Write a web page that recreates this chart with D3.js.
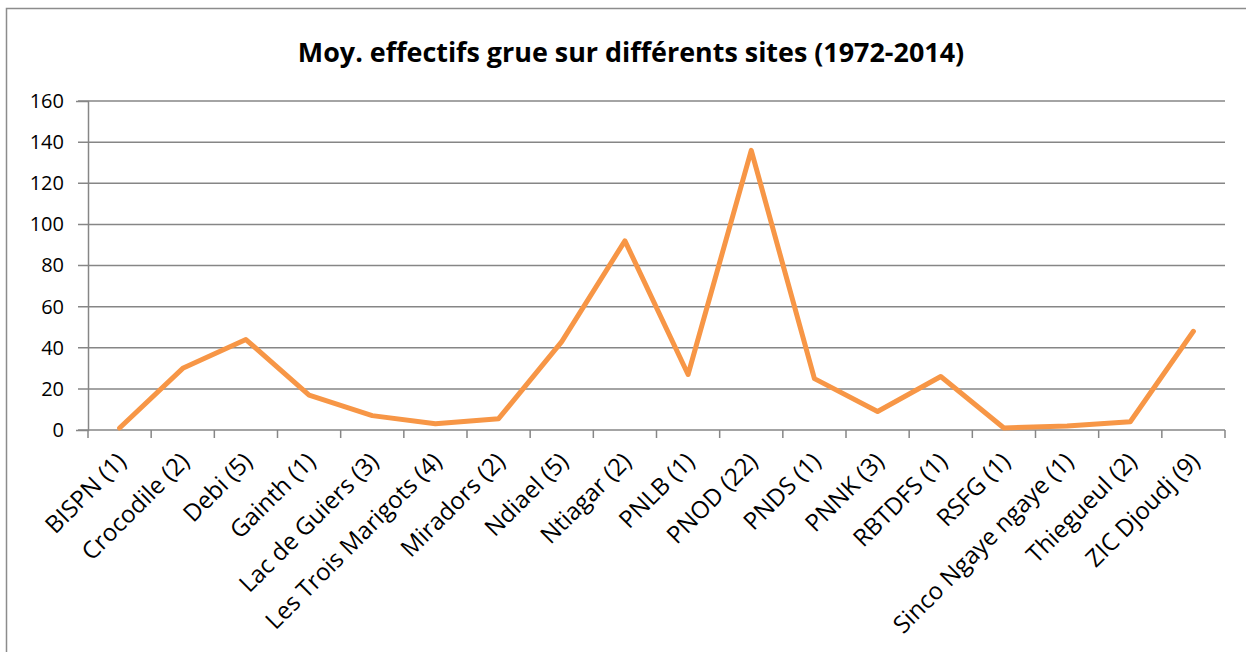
<!DOCTYPE html>
<html>
<head>
<meta charset="utf-8">
<script src="https://cdn.jsdelivr.net/npm/d3@7"></script>
<style>
  body { margin: 0; background: #fff; }
  text { font-family: "Open Sans", "Noto Sans", sans-serif; fill: #000; }
</style>
</head>
<body>
<script>
// sites (number of counts) and mean crane numbers
var sites = ["BISPN (1)", "Crocodile (2)", "Debi (5)", "Gainth (1)", "Lac de Guiers (3)",
    "Les Trois Marigots (4)", "Miradors (2)", "Ndiael (5)", "Ntiagar (2)", "PNLB (1)",
    "PNOD (22)", "PNDS (1)", "PNNK (3)", "RBTDFS (1)", "RSFG (1)",
    "Sinco Ngaye ngaye (1)", "Thiegueul (2)", "ZIC Djoudj (9)"];
var moyennes = [1, 30, 44, 17, 7, 3, 5.5, 43, 92, 27, 136, 25, 9, 26, 1, 2, 4, 48];
var yTicks = [0, 20, 40, 60, 80, 100, 120, 140, 160];

var width = 1246,
    height = 652;

var svg = d3.select("body")
    .append("svg")
    .attr("width", width)
    .attr("height", height);

//outer chart frame
svg.append("rect")
    .attr("x", 6.5)
    .attr("y", 8.5)
    .attr("width", 1300)
    .attr("height", 700)
    .attr("fill", "none")
    .attr("stroke", "#8c8c8c")
    .attr("stroke-width", 1.5);

svg.append("text")
    .attr("x", 631)
    .attr("y", 62)
    .attr("text-anchor", "middle")
    .attr("font-size", 26.9)
    .attr("font-weight", "bold")
    .text("Moy. effectifs grue sur différents sites (1972-2014)");

var x = d3.scaleBand()
    .domain(sites)
    .range([88, 1225]);

var y = d3.scaleLinear()
    .domain([0, 160])
    .range([430, 101]);

//gridlines
svg.append("g")
    .selectAll("line")
    .data(yTicks)
    .enter()
    .append("line")
    .attr("x1", 78)
    .attr("x2", 1225)
    .attr("y1", function(d){ return y(d); })
    .attr("y2", function(d){ return y(d); })
    .attr("stroke", "#868686")
    .attr("stroke-width", 1.5);

//y axis labels
var yAxis = svg.append("g")
    .attr("transform", "translate(88,0)")
    .call(d3.axisLeft(y).tickValues(yTicks).tickSize(12).tickPadding(12));
yAxis.select(".domain").attr("stroke", "#868686").attr("stroke-width", 1.5);
yAxis.selectAll(".tick line").remove();
yAxis.selectAll("text")
    .attr("font-size", 20)
    .attr("font-family", "'Open Sans', sans-serif")
    .attr("fill", "#000");

//x axis with tick marks between categories
var xAxis = svg.append("g")
    .attr("transform", "translate(0,430)");
xAxis.selectAll("line")
    .data(sites.concat(["end"]))
    .enter()
    .append("line")
    .attr("x1", function(d, i){ return 88 + i * x.step(); })
    .attr("x2", function(d, i){ return 88 + i * x.step(); })
    .attr("y1", 0)
    .attr("y2", 8)
    .attr("stroke", "#868686")
    .attr("stroke-width", 1.5);

xAxis.selectAll("text")
    .data(sites)
    .enter()
    .append("text")
    .attr("transform", function(d){
        return "translate(" + (x(d) + x.bandwidth() / 2 - 4) + ",21) rotate(-45)";
    })
    .attr("text-anchor", "end")
    .attr("dy", "0.7em")
    .attr("font-size", 24)
    .text(function(d){ return d; });

//the line
var line = d3.line()
    .x(function(d, i){ return x(sites[i]) + x.bandwidth() / 2; })
    .y(function(d){ return y(d); });

svg.append("path")
    .datum(moyennes)
    .attr("d", line)
    .attr("fill", "none")
    .attr("stroke", "#f79646")
    .attr("stroke-width", 5)
    .attr("stroke-linejoin", "round")
    .attr("stroke-linecap", "round");
</script>
</body>
</html>
